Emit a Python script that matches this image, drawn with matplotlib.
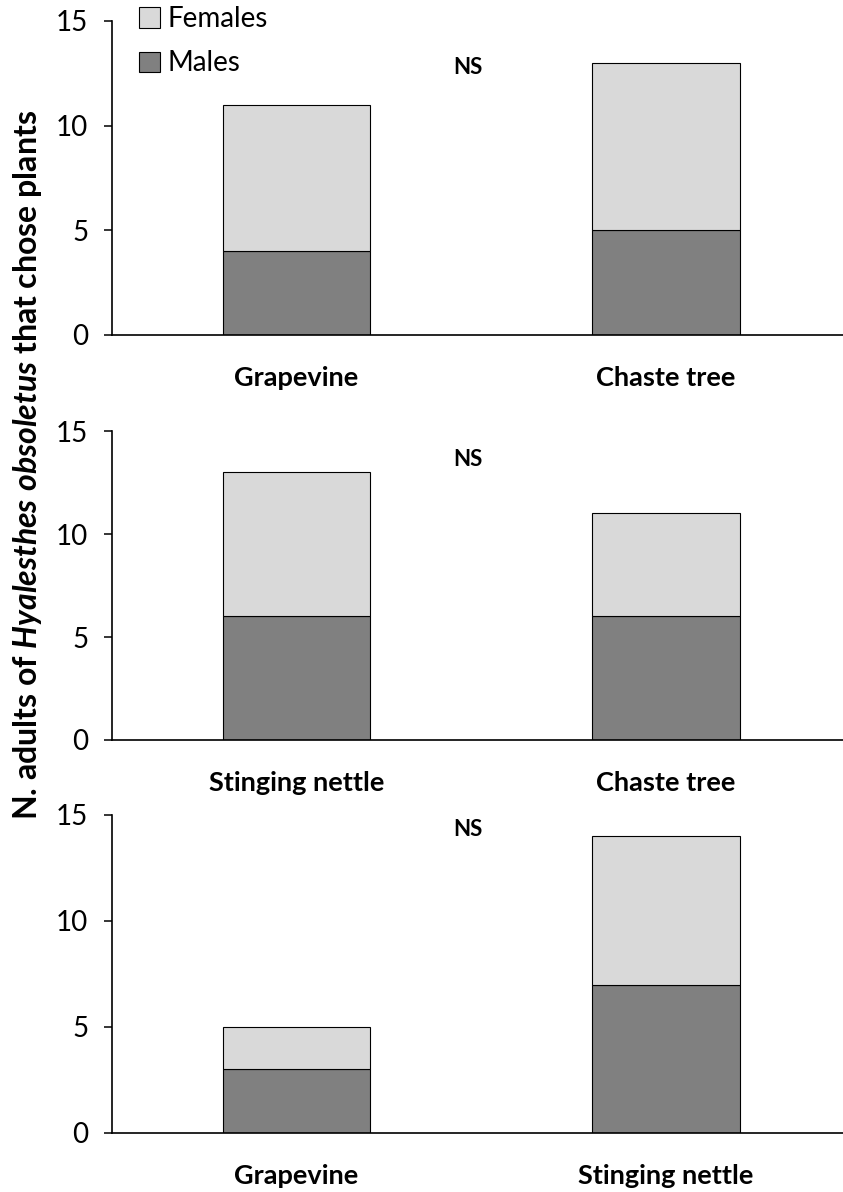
import matplotlib.pyplot as plt
from matplotlib.patches import Patch

plt.rcParams['font.family'] = ['Lato', 'DejaVu Sans']
plt.rcParams['mathtext.fontset'] = 'custom'
plt.rcParams['mathtext.it'] = 'Lato:italic:bold'
plt.rcParams['mathtext.rm'] = 'Lato:bold'
plt.rcParams['mathtext.bf'] = 'Lato:bold'

# ===== data =====
panel_plants = [
    ["Grapevine", "Chaste tree"],
    ["Stinging nettle", "Chaste tree"],
    ["Grapevine", "Stinging nettle"],
]
males = [
    [4, 5],
    [6, 6],
    [3, 7],
]
females = [
    [7, 8],
    [7, 5],
    [2, 7],
]
ns_labels = ["NS", "NS", "NS"]
ns_y = [12.8, 13.6, 14.3]
yticks = [0, 5, 10, 15]

female_color = "#d9d9d9"
male_color = "#808080"

fig = plt.figure(figsize=(8.43, 11.92), dpi=100)

# panel positions: [left, bottom, width, height]
positions = [
    [0.1329, 0.7190, 0.8671, 0.2634],
    [0.1329, 0.3792, 0.8671, 0.2592],
    [0.1329, 0.0495, 0.8671, 0.2668],
]

for i in range(3):
    ax = fig.add_axes(positions[i])
    x = [0, 1]
    ax.bar(x, males[i], width=0.4, color=male_color, edgecolor="black", linewidth=0.8)
    ax.bar(x, females[i], width=0.4, bottom=males[i], color=female_color,
           edgecolor="black", linewidth=0.8)
    ax.set_xlim(-0.5, 1.48)
    ax.set_ylim(0, 15)
    ax.set_yticks(yticks)
    ax.set_xticks(x)
    ax.set_xticklabels(panel_plants[i], fontsize=19.5, fontweight="bold")
    ax.tick_params(axis="x", length=0, pad=22)
    ax.tick_params(axis="y", direction="out", length=6, width=1.1, labelsize=20, pad=11)
    for side in ["top", "right"]:
        ax.spines[side].set_visible(False)
    for side in ["left", "bottom"]:
        ax.spines[side].set_linewidth(1.2)
    ax.text(0.465, ns_y[i], ns_labels[i], fontsize=16, fontweight="bold",
            ha="center", va="center")

fig.text(0.033, 0.61,
         r"N. adults of $\mathit{Hyalesthes\ obsoletus}$ that chose plants",
         rotation=90, ha="center", va="center", fontsize=23, fontweight="bold")

handles = [
    Patch(facecolor=female_color, edgecolor="black", linewidth=0.8, label="Females"),
    Patch(facecolor=male_color, edgecolor="black", linewidth=0.8, label="Males"),
]
fig.legend(handles=handles, loc="upper left", bbox_to_anchor=(0.152, 1.004),
           frameon=False, fontsize=20, handlelength=0.75, handleheight=0.75,
           handletextpad=0.25, labelspacing=0.65, borderaxespad=0)

fig.savefig("out.png", dpi=100)
